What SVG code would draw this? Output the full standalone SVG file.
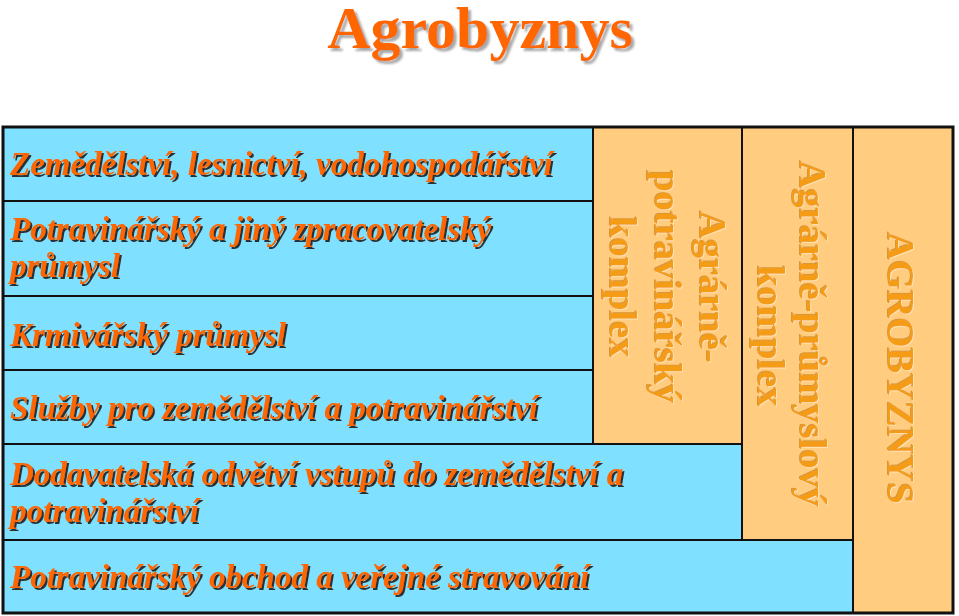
<svg xmlns="http://www.w3.org/2000/svg" width="959" height="616" viewBox="0 0 959 616">
  <defs>
    <filter id="shRow" x="-5%" y="-30%" width="110%" height="160%">
      <feDropShadow dx="2" dy="2" stdDeviation="0.4" flood-color="#1a1a1a" flood-opacity="0.9"/>
    </filter>
    <filter id="shTitle" x="-5%" y="-30%" width="110%" height="160%">
      <feDropShadow dx="3" dy="3" stdDeviation="0.8" flood-color="#a8a8a8" flood-opacity="1"/>
    </filter>
    <filter id="emboss" x="-10%" y="-10%" width="120%" height="120%">
      <feOffset in="SourceAlpha" dx="-1" dy="1" result="o1"/>
      <feFlood flood-color="#b86a00" flood-opacity="0.55"/>
      <feComposite in2="o1" operator="in" result="dark"/>
      <feOffset in="SourceAlpha" dx="1" dy="-1" result="o2"/>
      <feFlood flood-color="#fff0d0" flood-opacity="0.6"/>
      <feComposite in2="o2" operator="in" result="light"/>
      <feMerge>
        <feMergeNode in="dark"/>
        <feMergeNode in="light"/>
        <feMergeNode in="SourceGraphic"/>
      </feMerge>
    </filter>
  </defs>
  <style>
    .blue { fill: #7fe0ff; stroke: #111; stroke-width: 2; }
    .orng { fill: #ffcc80; stroke: #111; stroke-width: 2; }
    .row { font-family: "Liberation Serif", "Times New Roman", serif; font-weight: bold; font-style: italic; font-size: 33px; fill: #ff6600; filter: url(#shRow); }
    .col { font-family: "Liberation Serif", "Times New Roman", serif; font-weight: bold; font-size: 38.5px; fill: #f59c16; text-anchor: middle; filter: url(#emboss); }
    .title { font-family: "Liberation Serif", "Times New Roman", serif; font-weight: bold; font-size: 60px; fill: #ff6600; text-anchor: middle; filter: url(#shTitle); }
  </style>
  <rect width="959" height="616" fill="#ffffff"/>

  <g id="title">
    <text class="title" x="480" y="48">Agrobyznys</text>
  </g>

  <g id="zemedelstvi">
    <rect class="blue" x="3" y="127" width="590" height="74"/>
    <text class="row" x="10" y="175">Zemědělství, lesnictví, vodohospodářství</text>
  </g>
  <g id="potravinarsky-prumysl">
    <rect class="blue" x="3" y="201" width="590" height="95"/>
    <text class="row" x="10" y="240">Potravinářský a jiný zpracovatelský</text>
    <text class="row" x="10" y="277">průmysl</text>
  </g>
  <g id="krmivarsky">
    <rect class="blue" x="3" y="296" width="590" height="74"/>
    <text class="row" x="10" y="346">Krmivářský průmysl</text>
  </g>
  <g id="sluzby">
    <rect class="blue" x="3" y="370" width="590" height="74"/>
    <text class="row" x="10" y="419">Služby pro zemědělství a potravinářství</text>
  </g>
  <g id="dodavatelska">
    <rect class="blue" x="3" y="444" width="739" height="96"/>
    <text class="row" x="10" y="485">Dodavatelská odvětví vstupů do zemědělství a</text>
    <text class="row" x="10" y="522">potravinářství</text>
  </g>
  <g id="obchod">
    <rect class="blue" x="3" y="540" width="850" height="73"/>
    <text class="row" x="10" y="588">Potravinářský obchod a veřejné stravování</text>
  </g>

  <g id="agrarne-potravinarsky">
    <rect class="orng" x="593" y="127" width="149" height="317"/>
    <text class="col" transform="translate(700,287) rotate(90)">Agrárně-</text>
    <text class="col" transform="translate(655,287) rotate(90)">potravinářský</text>
    <text class="col" transform="translate(610,287) rotate(90)">komplex</text>
  </g>
  <g id="agrarne-prumyslovy">
    <rect class="orng" x="742" y="127" width="111" height="413"/>
    <text class="col" transform="translate(800,334) rotate(90)">Agrárně-průmyslový</text>
    <text class="col" transform="translate(758,336) rotate(90)">komplex</text>
  </g>
  <g id="agrobyznys">
    <rect class="orng" x="853" y="127" width="100" height="486"/>
    <text class="col" transform="translate(888,368) rotate(90)">AGROBYZNYS</text>
  </g>

  <rect x="3" y="127" width="950" height="486" fill="none" stroke="#111" stroke-width="3"/>
</svg>
